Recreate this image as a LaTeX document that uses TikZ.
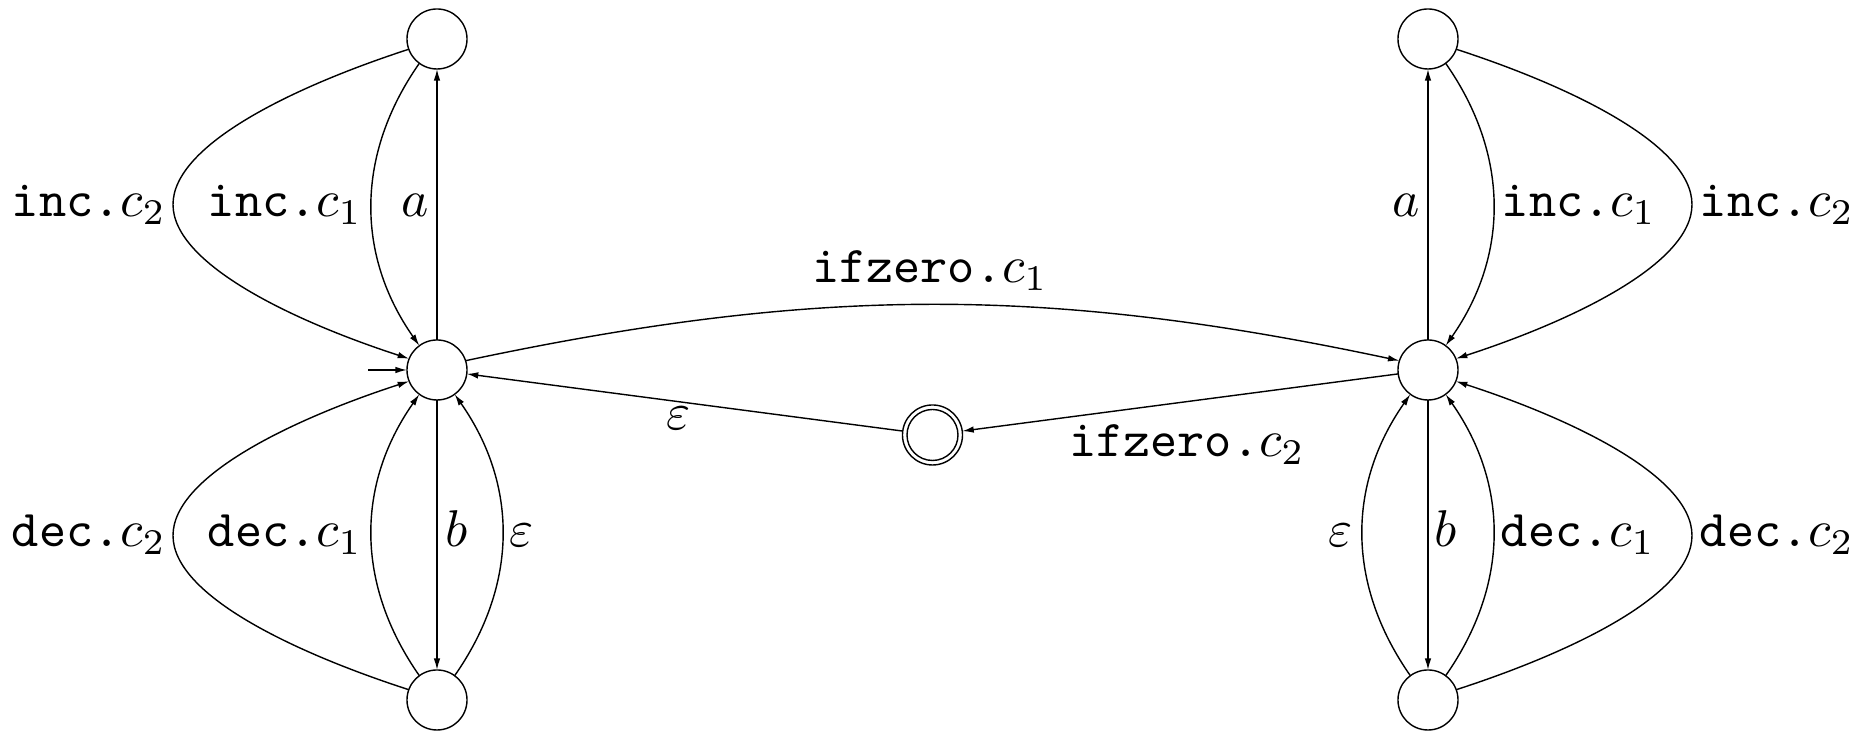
\documentclass[tikz,border=0pt]{standalone}
\usetikzlibrary{arrows.meta}
% labels are set at 10pt and enlarged, so subscripts keep their small optical size
\newcommand\lbl[1]{\scalebox{1.47}{#1}}
\begin{document}
\begin{tikzpicture}[x=0.01cm, y=0.01cm,
  state/.style={circle, draw, minimum size=0.6cm, inner sep=0pt, outer sep=0pt, line width=0.4pt},
  trans/.style={-{Latex[length=1.15mm, width=0.65mm]}, line width=0.4pt},
  lab/.style={inner sep=0pt, anchor=base}]
\useasboundingbox (0,0) rectangle (1865,740);

% states
\node[state] (L)  at (437,370) {};
\node[state] (TL) at (437,701) {};
\node[state] (BL) at (437,40)  {};
\node[state] (R)  at (1428,370) {};
\node[state] (TR) at (1428,701) {};
\node[state] (BR) at (1428,40)  {};
\node[state] (F)  at (932.5,305) {};
\draw (F.center) circle[radius=25.5];

% turning points of the wide loops
\coordinate (mTL) at (173,535.5);
\coordinate (mBL) at (173,204.5);
\coordinate (mTR) at (1692,535.5);
\coordinate (mBR) at (1692,204.5);

% initial marker
\coordinate (init) at (368,370);
\draw[trans] (init) -- (L);

% left counter gadget
\draw[trans] (L) -- (TL) node[lab] (la) at (415,523) {\lbl{$a$}};
\draw[trans] (TL.234) .. controls +(235:111) and +(125:111) .. (L.126)
  node[lab] (linc1) at (285,523) {\lbl{\texttt{inc.}$c_1$}};
\draw[trans] (TL.200) .. controls +(198:120) and +(90:60) .. (mTL)
  .. controls +(270:60) and +(162:120) .. (L.158)
  node[lab] (linc2) at (89,523) {\lbl{\texttt{inc.}$c_2$}};
\draw[trans] (L) -- (BL) node[lab] (lb) at (457,193) {\lbl{$b$}};
\draw[trans] (BL.126) .. controls +(125:111) and +(235:111) .. (L.234)
  node[lab] (ldec1) at (285,193) {\lbl{\texttt{dec.}$c_1$}};
\draw[trans] (BL.160) .. controls +(162:120) and +(270:60) .. (mBL)
  .. controls +(90:60) and +(198:120) .. (L.202)
  node[lab] (ldec2) at (89,193) {\lbl{\texttt{dec.}$c_2$}};
\draw[trans] (BL.54) .. controls +(55:111) and +(-55:111) .. (L.-54)
  node[lab] (leps) at (522,193) {\lbl{$\varepsilon$}};

% right counter gadget
\draw[trans] (R) -- (TR) node[lab] (ra) at (1406,523) {\lbl{$a$}};
\draw[trans] (TR.-54) .. controls +(-55:111) and +(55:111) .. (R.54)
  node[lab] (rinc1) at (1579,523) {\lbl{\texttt{inc.}$c_1$}};
\draw[trans] (TR.-20) .. controls +(-18:120) and +(90:60) .. (mTR)
  .. controls +(270:60) and +(18:120) .. (R.22)
  node[lab] (rinc2) at (1777,523) {\lbl{\texttt{inc.}$c_2$}};
\draw[trans] (R) -- (BR) node[lab] (rb) at (1446,193) {\lbl{$b$}};
\draw[trans] (BR.54) .. controls +(55:111) and +(-55:111) .. (R.-54)
  node[lab] (rdec1) at (1578,193) {\lbl{\texttt{dec.}$c_1$}};
\draw[trans] (BR.20) .. controls +(18:120) and +(270:60) .. (mBR)
  .. controls +(90:60) and +(-18:120) .. (R.-22)
  node[lab] (rdec2) at (1777,193) {\lbl{\texttt{dec.}$c_2$}};
\draw[trans] (BR.126) .. controls +(125:111) and +(235:111) .. (R.234)
  node[lab] (reps) at (1341,193) {\lbl{$\varepsilon$}};

% zero tests
\draw[trans] (L.18) .. controls +(12:360) and +(168:360) .. (R.162)
  node[lab] (lz1) at (930,457) {\lbl{\texttt{ifzero.}$c_1$}};
\draw[trans] (R) -- (F) node[lab] (lz2) at (1187,283) {\lbl{\texttt{ifzero.}$c_2$}};
\draw[trans] (F) -- (L) node[lab] (leps2) at (679,310) {\lbl{$\varepsilon$}};
\end{tikzpicture}
\end{document}
